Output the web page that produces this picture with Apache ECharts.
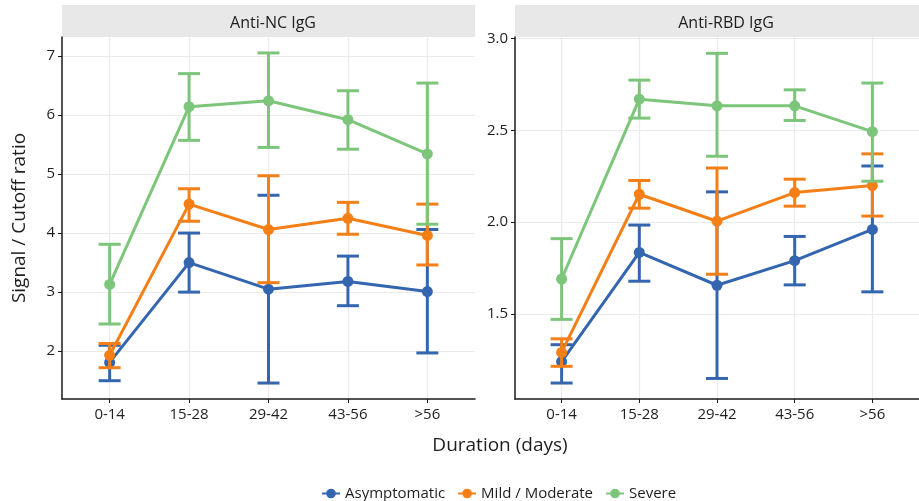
<!DOCTYPE html>
<html>
<head>
<meta charset="utf-8">
<script src="https://cdn.jsdelivr.net/npm/echarts@6/dist/echarts.min.js"></script>
<style>
html, body { margin: 0; padding: 0; background: #fff; }
#chart { width: 919px; height: 501px; }
</style>
</head>
<body>
<div id="chart"></div>
<script>
var durations = ['0-14', '15-28', '29-42', '43-56', '>56'];
var groups = ['Asymptomatic', 'Mild / Moderate', 'Severe'];
var colors = ['#3466b0', '#f57f17', '#7cc57a'];

// Anti-NC IgG
var ncAsymMean = [1.81, 3.50, 3.05, 3.18, 3.01];
var ncAsymLow = [1.50, 3.00, 1.46, 2.77, 1.97];
var ncAsymHigh = [2.10, 4.00, 4.64, 3.61, 4.06];
var ncMildMean = [1.93, 4.49, 4.06, 4.25, 3.96];
var ncMildLow = [1.72, 4.20, 3.16, 3.98, 3.46];
var ncMildHigh = [2.13, 4.75, 4.97, 4.52, 4.49];
var ncSevMean = [3.13, 6.14, 6.24, 5.92, 5.34];
var ncSevLow = [2.46, 5.57, 5.45, 5.42, 4.15];
var ncSevHigh = [3.81, 6.70, 7.05, 6.41, 6.54];

// Anti-RBD IgG
var rbdAsymMean = [1.24, 1.835, 1.656, 1.79, 1.96];
var rbdAsymLow = [1.123, 1.678, 1.148, 1.658, 1.62];
var rbdAsymHigh = [1.332, 1.984, 2.165, 1.922, 2.306];
var rbdMildMean = [1.29, 2.152, 2.005, 2.161, 2.199];
var rbdMildLow = [1.214, 2.076, 1.716, 2.087, 2.033];
var rbdMildHigh = [1.364, 2.227, 2.295, 2.234, 2.372];
var rbdSevMean = [1.69, 2.67, 2.634, 2.634, 2.493];
var rbdSevLow = [1.47, 2.567, 2.359, 2.554, 2.223];
var rbdSevHigh = [1.91, 2.774, 2.92, 2.721, 2.758];

var ncTicks = [2, 3, 4, 5, 6, 7];
var rbdTicks = [1.5, 2.0, 2.5, 3.0];
var xTicks = durations.map(function (d, i) { return i + 1; });

var font = '"Open Sans", Lato, sans-serif';
var textColor = '#1e1e1e';

function points(vals) {
  return vals.map(function (v, i) { return [i + 1, v]; });
}
function bars(lo, hi) {
  return lo.map(function (v, i) { return [i + 1, v, hi[i]]; });
}

// vertical whisker with caps, placed through the axes
function errorBar(params, api) {
  var x = api.value(0);
  var lo = api.coord([x, api.value(1)]);
  var hi = api.coord([x, api.value(2)]);
  var half = 11;
  var style = { stroke: api.visual('color'), lineWidth: 3 };
  return {
    type: 'group',
    children: [
      { type: 'line', shape: { x1: lo[0], y1: lo[1], x2: hi[0], y2: hi[1] }, style: style },
      { type: 'line', shape: { x1: lo[0] - half, y1: lo[1], x2: lo[0] + half, y2: lo[1] }, style: style },
      { type: 'line', shape: { x1: hi[0] - half, y1: hi[1], x2: hi[0] + half, y2: hi[1] }, style: style }
    ]
  };
}

function xAxis(idx) {
  return {
    type: 'value',
    gridIndex: idx,
    min: 0.4,
    max: 5.6,
    axisLine: { show: true, lineStyle: { color: '#1a1a1a', width: 1.5 } },
    axisTick: { show: true, length: 4, customValues: xTicks, lineStyle: { color: '#1a1a1a' } },
    axisLabel: {
      customValues: xTicks,
      formatter: function (v) { return durations[Math.round(v) - 1] || ''; },
      color: textColor, fontFamily: font, fontSize: 15, margin: 8
    },
    splitLine: { show: true, lineStyle: { color: '#ebebeb', width: 1.2 } }
  };
}

function yAxis(idx, min, max, ticks, digits) {
  return {
    type: 'value',
    gridIndex: idx,
    min: min,
    max: max,
    axisLine: { show: true, lineStyle: { color: '#1a1a1a', width: 1.5 } },
    axisTick: { show: true, length: 4, customValues: ticks, lineStyle: { color: '#1a1a1a' } },
    axisLabel: {
      customValues: ticks,
      formatter: function (v) { return v.toFixed(digits); },
      color: textColor, fontFamily: font, fontSize: 15, margin: 7
    },
    splitLine: { show: true, lineStyle: { color: '#ebebeb', width: 1.2 } }
  };
}

var panels = [
  { mean: [ncAsymMean, ncMildMean, ncSevMean], low: [ncAsymLow, ncMildLow, ncSevLow], high: [ncAsymHigh, ncMildHigh, ncSevHigh] },
  { mean: [rbdAsymMean, rbdMildMean, rbdSevMean], low: [rbdAsymLow, rbdMildLow, rbdSevLow], high: [rbdAsymHigh, rbdMildHigh, rbdSevHigh] }
];

var series = [];
panels.forEach(function (p, pi) {
  groups.forEach(function (g, gi) {
    series.push({
      name: g,
      type: 'line',
      xAxisIndex: pi,
      yAxisIndex: pi,
      data: points(p.mean[gi]),
      symbol: 'circle',
      symbolSize: 11,
      lineStyle: { width: 3, color: colors[gi] },
      itemStyle: { color: colors[gi] },
      z: 3 + gi * 2,
      animation: false
    });
    series.push({
      name: g,
      type: 'custom',
      xAxisIndex: pi,
      yAxisIndex: pi,
      data: bars(p.low[gi], p.high[gi]),
      renderItem: errorBar,
      itemStyle: { color: colors[gi] },
      z: 2 + gi * 2,
      animation: false
    });
  });
});

var chart = echarts.init(document.getElementById('chart'));
var option = {
  backgroundColor: '#fff',
  animation: false,
  textStyle: { fontFamily: font },
  grid: [
    { left: 62, top: 37, width: 413, height: 362 },
    { left: 515, top: 37, width: 413, height: 362 }
  ],
  graphic: [
    { type: 'rect', shape: { x: 62, y: 5, width: 413, height: 32 }, style: { fill: '#e8e8e8' }, z: 0 },
    { type: 'rect', shape: { x: 515, y: 5, width: 413, height: 32 }, style: { fill: '#e8e8e8' }, z: 0 }
  ],
  title: [
    { text: 'Anti-NC IgG', left: 268, top: 10, textAlign: 'center', textStyle: { fontFamily: font, fontSize: 16, fontWeight: 'normal', color: textColor } },
    { text: 'Anti-RBD IgG', left: 721, top: 10, textAlign: 'center', textStyle: { fontFamily: font, fontSize: 16, fontWeight: 'normal', color: textColor } },
    { text: 'Duration (days)', left: 495, top: 431, textAlign: 'center', textStyle: { fontFamily: font, fontSize: 19, fontWeight: 'normal', color: textColor } }
  ],
  legend: {
    data: groups,
    left: 316,
    top: 481,
    itemWidth: 18,
    itemHeight: 12,
    itemGap: 12,
    textStyle: { fontFamily: font, fontSize: 15, color: textColor }
  },
  xAxis: [xAxis(0), xAxis(1)],
  yAxis: [
    Object.assign(yAxis(0, 1.19, 7.32, ncTicks, 0), {
      name: 'Signal / Cutoff ratio',
      nameLocation: 'middle',
      nameGap: 33,
      nameTextStyle: { fontFamily: font, fontSize: 19, color: textColor }
    }),
    yAxis(1, 1.036, 3.009, rbdTicks, 1)
  ],
  series: series
};
chart.setOption(option);
</script>
</body>
</html>
